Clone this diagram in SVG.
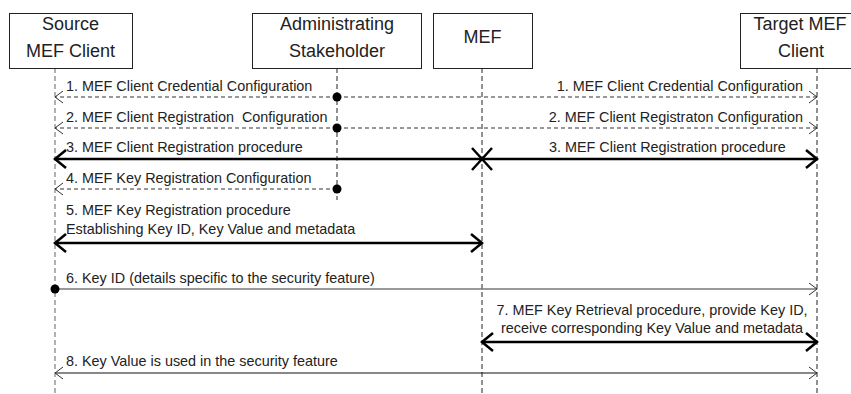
<svg xmlns="http://www.w3.org/2000/svg" width="851" height="394" viewBox="0 0 851 394">
<style>
.box{fill:#fff;stroke:#222;stroke-width:1}
.title{font-family:"Liberation Sans",Arial,sans-serif;font-size:18px;fill:#222;text-anchor:middle}
.lbl{font-family:"Liberation Sans",Arial,sans-serif;font-size:14.4px;fill:#222}
.life{stroke:#222;stroke-width:1;stroke-dasharray:5,3;fill:none}
.lifeg{stroke:#888;stroke-width:1.3;stroke-dasharray:5,3;fill:none}
.dash{stroke:#333;stroke-width:1;stroke-dasharray:4,3;fill:none}
.thick{stroke:#000;stroke-width:2.5;fill:none}
.thin{stroke:#111;stroke-width:1;fill:none}
.gray{stroke:#777;stroke-width:1.5;fill:none}
.dot{fill:#000}
</style>
<defs>
<marker id="ah" markerUnits="userSpaceOnUse" markerWidth="12" markerHeight="14" refX="9" refY="7" orient="auto-start-reverse" viewBox="0 0 12 14">
<path d="M1,1 L9,7 L1,13" fill="none" stroke="#333" stroke-width="1"/>
</marker>
<marker id="ahk" markerUnits="userSpaceOnUse" markerWidth="16" markerHeight="22" refX="13" refY="11" orient="auto-start-reverse" viewBox="0 0 16 22">
<path d="M2,2 L13,11 L2,20" fill="none" stroke="#000" stroke-width="2.5"/>
</marker>
</defs>

<g id="lifelines">
<line class="lifeg" x1="55" y1="68" x2="55" y2="394"/>
<line class="life" x1="337" y1="68" x2="337" y2="200"/>
<line class="life" x1="482" y1="68" x2="482" y2="394"/>
<line class="life" x1="817" y1="68" x2="817" y2="394"/>
</g>

<g id="source">
<rect class="box" x="9.5" y="13.5" width="123" height="55"/>
<text class="title" x="70.5" y="30">Source</text>
<text class="title" x="70.5" y="57">MEF Client</text>
</g>
<g id="admin">
<rect class="box" x="252.5" y="13.5" width="169" height="55"/>
<text class="title" x="337" y="30">Administrating</text>
<text class="title" x="337" y="57">Stakeholder</text>
</g>
<g id="mef">
<rect class="box" x="433.5" y="13.5" width="99" height="55"/>
<text class="title" x="482.5" y="43">MEF</text>
</g>
<g id="target">
<rect class="box" x="740.5" y="13.5" width="130" height="55"/>
<text class="title" x="800" y="30">Target MEF</text>
<text class="title" x="801" y="57">Client</text>
</g>

<g id="connectors">
<!-- 1 -->
<line class="dash" x1="337" y1="97" x2="55" y2="97" marker-end="url(#ah)"/>
<line class="dash" x1="337" y1="97" x2="817" y2="97" marker-end="url(#ah)"/>
<circle class="dot" cx="337" cy="97" r="4.5"/>
<!-- 2 -->
<line class="dash" x1="337" y1="128" x2="55" y2="128" marker-end="url(#ah)"/>
<line class="dash" x1="337" y1="128" x2="817" y2="128" marker-end="url(#ah)"/>
<circle class="dot" cx="337" cy="128" r="4.5"/>
<!-- 3 -->
<line class="thick" x1="55" y1="159" x2="817" y2="159" marker-start="url(#ahk)" marker-end="url(#ahk)"/>
<path d="M472,148 L492,170 M492,148 L472,170" stroke="#000" stroke-width="2.5" fill="none"/>
<!-- 4 -->
<line class="dash" x1="337" y1="189" x2="55" y2="189" marker-end="url(#ah)"/>
<circle class="dot" cx="337" cy="189" r="4.5"/>
<!-- 5 -->
<line class="thick" x1="55" y1="243" x2="482" y2="243" marker-start="url(#ahk)" marker-end="url(#ahk)"/>
<!-- 6 -->
<line class="gray" x1="55" y1="289" x2="817" y2="289" marker-end="url(#ah)"/>
<circle class="dot" cx="55" cy="289" r="4.5"/>
<!-- 7 -->
<line class="thick" x1="482" y1="342" x2="817" y2="342" marker-start="url(#ahk)" marker-end="url(#ahk)"/>
<!-- 8 -->
<line class="thin" x1="55" y1="373" x2="817" y2="373" marker-start="url(#ah)" marker-end="url(#ah)"/>
</g>

<g id="labels">
<text class="lbl" x="66" y="91">1. MEF Client Credential Configuration</text>
<text class="lbl" x="803" y="91" text-anchor="end">1. MEF Client Credential Configuration</text>
<text class="lbl" x="66" y="122" xml:space="preserve">2. MEF Client Registration  Configuration</text>
<text class="lbl" x="803" y="122" text-anchor="end">2. MEF Client Registraton Configuration</text>
<text class="lbl" x="66" y="152">3. MEF Client Registration procedure</text>
<text class="lbl" x="549" y="152">3. MEF Client Registration procedure</text>
<text class="lbl" x="66" y="183">4. MEF Key Registration Configuration</text>
<text class="lbl" x="66" y="215">5. MEF Key Registration procedure</text>
<text class="lbl" x="66" y="234">Establishing Key ID, Key Value and metadata</text>
<text class="lbl" x="66" y="283">6. Key ID (details specific to the security feature)</text>
<text class="lbl" x="652" y="315" text-anchor="middle">7. MEF Key Retrieval procedure, provide Key ID,</text>
<text class="lbl" x="652" y="333" text-anchor="middle">receive corresponding Key Value and metadata</text>
<text class="lbl" x="66" y="366">8. Key Value is used in the security feature</text>
</g>
</svg>
